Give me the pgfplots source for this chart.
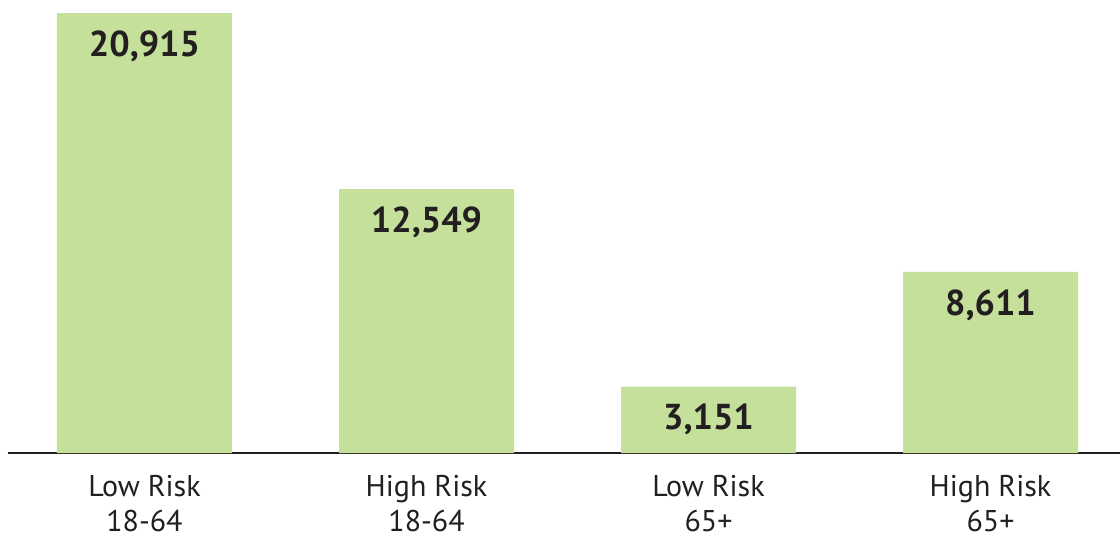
\documentclass[border=0pt]{standalone}
\usepackage{fontspec}
\setmainfont{PT Sans}
\usepackage{pgfplots}
\pgfplotsset{compat=1.18}
\definecolor{barg}{HTML}{C5E09B}
\definecolor{ink}{HTML}{231F20}

\begin{document}
\begin{tikzpicture}
\useasboundingbox (-8pt,-86pt) rectangle (1112pt,453pt);
\begin{axis}[
    at={(0,0)}, anchor=south west,
    scale only axis,
    width=1112pt, height=453pt,
    xmin=-0.484, xmax=3.459,
    ymin=0, ymax=21533,
    axis x line*=bottom,
    axis y line=none,
    axis line style={ink, line width=2.2pt},
    ybar, bar width=175pt,
    xtick=data,
    xticklabels={{Low Risk\\18-64},{High Risk\\18-64},{Low Risk\\65+},{High Risk\\65+}},
    major tick length=0pt,
    xticklabel style={align=center, text=ink, font=\fontsize{30}{35}\selectfont, anchor=north, yshift=-19pt},
    nodes near coords={\pgfmathprintnumber[1000 sep={,},assume math mode=true]{\pgfplotspointmeta}},
    every node near coord/.append style={anchor=center, yshift=-33pt, text=ink, font=\fontsize{36}{40}\selectfont\bfseries},
]
\addplot[fill=barg, draw=none] coordinates {
  (0,20915) (1,12549) (2,3151) (3,8611)
};
\end{axis}
\end{tikzpicture}
\end{document}
